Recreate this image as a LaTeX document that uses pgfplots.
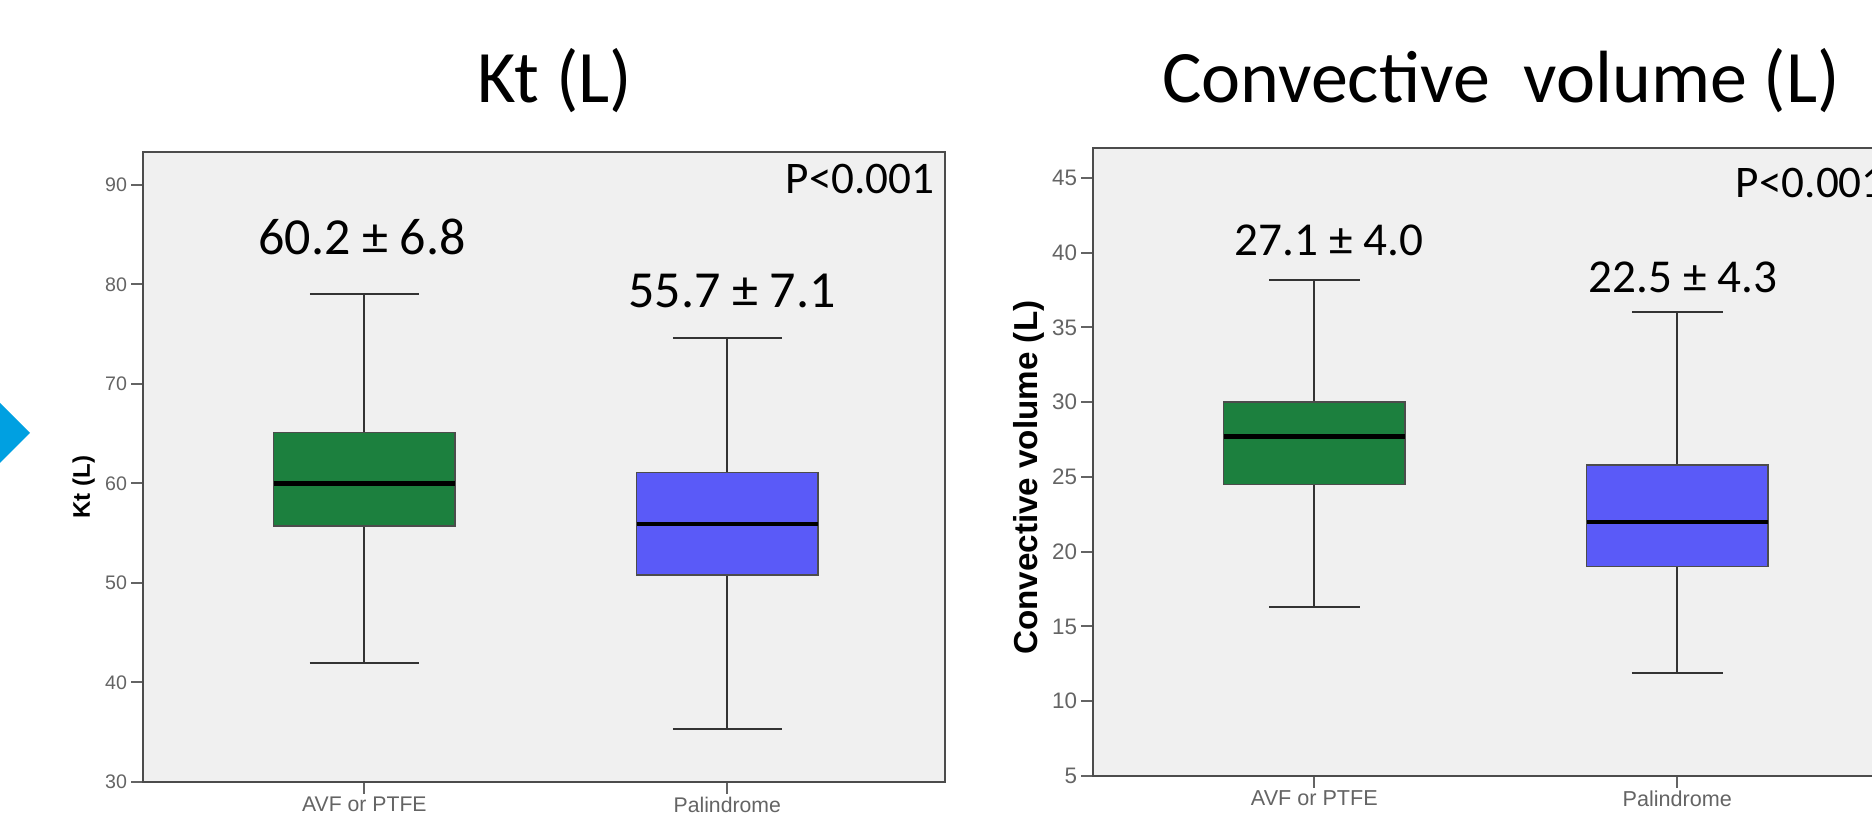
\documentclass[border=0pt]{standalone}
\usepackage{pgfplots}
\pgfplotsset{compat=1.18}
\usepgfplotslibrary{statistics}
\usepackage{fontspec}
\setmainfont{Liberation Sans}
\newfontfamily\calfont{Carlito}
\definecolor{boxgreen}{RGB}{28,128,62}
\definecolor{boxblue}{RGB}{90,90,248}
\definecolor{plotbg}{RGB}{240,240,240}
\definecolor{tickgray}{RGB}{100,100,100}
\definecolor{arrowblue}{RGB}{0,160,225}
\pgfplotsset{
  spssbox/.style={
    scale only axis, anchor=south west,
    width=200.5pt,
    xmin=0.39, xmax=2.6,
    xtick={1,2},
    boxplot/draw direction=y,
    tick pos=left, tick align=outside, major tick length=3pt,
    axis background/.style={fill=plotbg},
    axis line style={black!70, line width=0.6pt},
    tick style={tickgray, line width=0.5pt},
    /pgf/number format/assume math mode=true,
    xticklabel style={inner sep=0.5pt},
    yticklabel style={inner sep=0.8pt},
    boxplot/every median/.style={line width=1.1pt, black},
    boxplot/every whisker/.style={line width=0.5pt, black!80},
    boxplot/every box/.style={line width=0.4pt, draw=black!70},
  }
}
\begin{document}
\begin{tikzpicture}
\useasboundingbox (0,0) rectangle (468pt,205.25pt);

% left axis: Kt
\begin{axis}[spssbox,
  at={(35.75pt,9.75pt)}, height=157.5pt,
  ymin=30, ymax=93.3, ytick={30,40,...,90},
  xticklabels={AVF or PTFE, Palindrome},
  xticklabel style={tickgray, font=\fontsize{5.3}{6}\selectfont},
  yticklabel style={tickgray, font=\fontsize{4.9}{6}\selectfont},
  ylabel={\textbf{Kt (L)}},
  ylabel style={at={(axis description cs:-0.074,0.468)}, anchor=center, font=\fontsize{6}{7}\selectfont},
]
\addplot[boxplot prepared={lower whisker=42.0, lower quartile=55.7, median=60.0,
  upper quartile=65.1, upper whisker=79.0, draw position=1,
  box extend=0.5, whisker extend=0.3}, fill=boxgreen, draw=black!70] coordinates {};
\addplot[boxplot prepared={lower whisker=35.3, lower quartile=50.8, median=55.9,
  upper quartile=61.1, upper whisker=74.6, draw position=2,
  box extend=0.5, whisker extend=0.3}, fill=boxblue, draw=black!70] coordinates {};
\end{axis}

% right axis: convective volume
\begin{axis}[spssbox,
  at={(273.25pt,11.25pt)}, height=157pt,
  ymin=5, ymax=47, ytick={5,10,...,45},
  xticklabels={AVF or PTFE, Palindrome},
  xticklabel style={tickgray, font=\fontsize{5.4}{6}\selectfont},
  yticklabel style={tickgray, font=\fontsize{5.6}{6}\selectfont},
  ylabel={\textbf{Convective volume (L)}},
  ylabel style={at={(axis description cs:-0.08,0.475)}, anchor=center, font=\fontsize{8.3}{9}\selectfont},
]
\addplot[boxplot prepared={lower whisker=16.3, lower quartile=24.5, median=27.7,
  upper quartile=30.0, upper whisker=38.2, draw position=1,
  box extend=0.5, whisker extend=0.25}, fill=boxgreen, draw=black!70] coordinates {};
\addplot[boxplot prepared={lower whisker=11.9, lower quartile=19.0, median=22.0,
  upper quartile=25.8, upper whisker=36.0, draw position=2,
  box extend=0.5, whisker extend=0.25}, fill=boxblue, draw=black!70] coordinates {};
\end{axis}

\begin{scope}[x=0.25pt, y=-0.25pt, shift={(0,205.25pt)}]
  % decorative arrow at left edge
  \fill[arrowblue] (-15,388) -- (30,433) -- (-15,478) -- cycle;
  % titles
  \node[anchor=base, inner sep=0pt, font=\calfont\fontsize{18.5}{20}\selectfont] at (555,103) {Kt (L)};
  \node[anchor=base, inner sep=0pt, font=\calfont\fontsize{18.5}{20}\selectfont] at (1501,103) {Convective\ \ volume (L)};
  % annotations left
  \node[anchor=base, inner sep=0pt, font=\calfont\fontsize{13}{14}\selectfont] at (362,255) {60.2 ± 6.8};
  \node[anchor=base, inner sep=0pt, font=\calfont\fontsize{13}{14}\selectfont] at (732,308) {55.7 ± 7.1};
  \node[anchor=base west, inner sep=0pt, font=\calfont\fontsize{11.3}{12}\selectfont] at (785,194) {P<0.001};
  % annotations right
  \node[anchor=base, inner sep=0pt, font=\calfont\fontsize{11.8}{13}\selectfont] at (1329,256) {27.1 ± 4.0};
  \node[anchor=base, inner sep=0pt, font=\calfont\fontsize{11.8}{13}\selectfont] at (1683,293) {22.5 ± 4.3};
  \node[anchor=base west, inner sep=0pt, font=\calfont\fontsize{11.3}{12}\selectfont] at (1735,198) {P<0.001};
\end{scope}
\end{tikzpicture}
\end{document}
